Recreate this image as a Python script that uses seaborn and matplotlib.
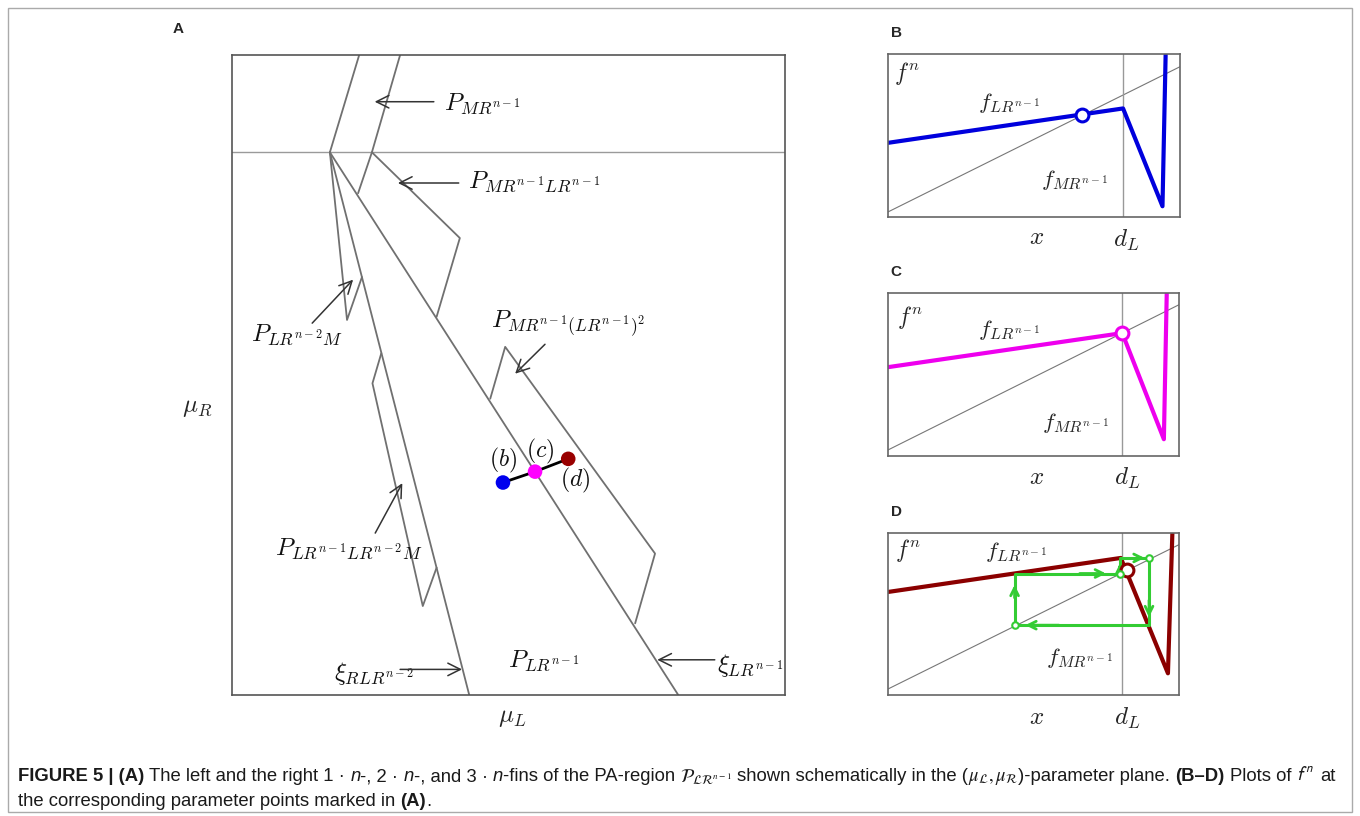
import matplotlib
matplotlib.use("Agg")
import matplotlib.pyplot as plt
from matplotlib.patches import Rectangle
from matplotlib import font_manager
import seaborn as sns

# ---------------- data (schematic units) ----------------
# Panel A: boundary curves in the (mu_L, mu_R) plane, axes span [0,1] x [0,1]
border_y = [0.848, 0.848]
border_x = [0.0, 1.0]
fin1_left_x = [0.230, 0.177]
fin1_left_y = [1.0, 0.848]
fin1_right_x = [0.304, 0.253, 0.228]
fin1_right_y = [1.0, 0.848, 0.784]
fin_mrlr_x = [0.253, 0.412, 0.370]
fin_mrlr_y = [0.848, 0.714, 0.591]
fin_lrm_x = [0.177, 0.208, 0.235]
fin_lrm_y = [0.848, 0.586, 0.653]
xi_rlr_x = [0.177, 0.429]
xi_rlr_y = [0.848, 0.0]
xi_lr_x = [0.177, 0.807]
xi_lr_y = [0.848, 0.0]
fin_lrlrm_x = [0.270, 0.254, 0.345, 0.370]
fin_lrlrm_y = [0.534, 0.487, 0.139, 0.199]
fin_mrlr2_x = [0.467, 0.494, 0.765, 0.729]
fin_mrlr2_y = [0.463, 0.544, 0.221, 0.112]
param_x = [0.490, 0.548, 0.608]
param_y = [0.332, 0.349, 0.369]
param_names = ["$(b)$", "$(c)$", "$(d)$"]
param_colors = ["#0000ee", "#ff00ff", "#990000"]

# Panels B-D: f^n (x in [0,1], y in [0,1])
d_L = 0.805
diag_B_y = [0.031, 0.922]
diag_CD_y = [0.037, 0.928]
curve_B_x = [0.0, 0.805, 0.940, 0.952]
curve_B_y = [0.455, 0.666, 0.066, 1.1]
fixed_B = (0.665, 0.628)
curve_C_x = [0.0, 0.805, 0.948, 0.959]
curve_C_y = [0.545, 0.754, 0.103, 1.1]
fixed_C = (0.805, 0.754)
curve_D_x = [0.0, 0.800, 0.962, 0.979]
curve_D_y = [0.636, 0.846, 0.134, 1.1]
fixed_D = (0.822, 0.770)
cobweb_x = [0.435, 0.435, 0.796, 0.796, 0.897, 0.897, 0.435]
cobweb_y = [0.431, 0.750, 0.750, 0.846, 0.846, 0.431, 0.431]
cobweb_head_frac = [0.78, 0.87, 0.60, 0.85, 0.88, 0.92]
cobweb_pts_x = [0.435, 0.796, 0.897]
cobweb_pts_y = [0.431, 0.750, 0.846]

# ---------------- style ----------------
sns.set_theme(style="white")
plt.rcParams["mathtext.fontset"] = "cm"
names = {f.name for f in font_manager.fontManager.ttflist}
cap_family = "Liberation Sans Narrow" if "Liberation Sans Narrow" in names else "Liberation Sans"
plt.rcParams["font.family"] = ["Liberation Sans", "DejaVu Sans"]

W, H = 1360, 816
fig = plt.figure(figsize=(W / 100, H / 100), dpi=100)
fig.patch.set_facecolor("white")


def rect(l, t, r, b):
    return [l / W, 1 - b / H, (r - l) / W, (b - t) / H]


def style_ax(ax, ec="#555555"):
    ax.set_xlim(0, 1)
    ax.set_ylim(0, 1)
    ax.set_xticks([])
    ax.set_yticks([])
    ax.set_xlabel("")
    ax.set_ylabel("")
    for s in ax.spines.values():
        s.set_visible(True)
        s.set_color(ec)
        s.set_linewidth(1.2)


def line(ax, xs, ys, color="#707070", lw=1.3, **kw):
    sns.lineplot(x=xs, y=ys, sort=False, estimator=None, ax=ax, color=color,
                 linewidth=lw, legend=False, **kw)


# ---------------- Panel A ----------------
axA = fig.add_axes(rect(232, 55, 785, 695))
line(axA, border_x, border_y, color="#9a9a9a", lw=1.0)
for xs, ys in [(fin1_left_x, fin1_left_y), (fin1_right_x, fin1_right_y),
               (fin_mrlr_x, fin_mrlr_y), (fin_lrm_x, fin_lrm_y),
               (xi_rlr_x, xi_rlr_y), (xi_lr_x, xi_lr_y),
               (fin_lrlrm_x, fin_lrlrm_y), (fin_mrlr2_x, fin_mrlr2_y)]:
    line(axA, xs, ys)
line(axA, param_x, param_y, color="black", lw=2.0)
sns.scatterplot(x=param_x, y=param_y, hue=param_names, palette=param_colors,
                s=110, edgecolor="none", ax=axA, legend=False, zorder=5)
style_ax(axA)

FS = 18
arrow_kw = dict(arrowstyle="->,head_length=0.5,head_width=0.25", color="#333333", lw=1.1,
                shrinkA=0, shrinkB=0, mutation_scale=18)
labelsA = [
    ("$P_{MR^{n-1}}$", (0.383, 0.914), (0.365, 0.927), (0.258, 0.927)),
    ("$P_{MR^{n-1}LR^{n-1}}$", (0.426, 0.792), (0.410, 0.800), (0.300, 0.800)),
    ("$P_{LR^{n-2}M}$", (0.035, 0.553), (0.145, 0.581), (0.219, 0.649)),
    ("$P_{MR^{n-1}(LR^{n-1})^2}$", (0.468, 0.573), (0.566, 0.548), (0.512, 0.502)),
    ("$P_{LR^{n-1}LR^{n-2}M}$", (0.077, 0.219), (0.259, 0.253), (0.308, 0.331)),
    ("$\\xi_{RLR^{n-2}}$", (0.184, 0.023), (0.304, 0.040), (0.416, 0.040)),
    ("$P_{LR^{n-1}}$", (0.499, 0.044), None, None),
    ("$\\xi_{LR^{n-1}}$", (0.877, 0.036), (0.873, 0.055), (0.769, 0.055)),
]
for txt, pos, tail, head in labelsA:
    axA.text(pos[0], pos[1], txt, fontsize=FS, ha="left", va="baseline", color="#111111")
    if tail is not None:
        axA.annotate("", xy=head, xytext=tail, arrowprops=arrow_kw)
for nm, (px, py) in zip(param_names, [(0.491, 0.367), (0.557, 0.380), (0.620, 0.336)]):
    axA.text(px, py, nm, fontsize=17, ha="center", va="center", color="#111111")
fig.text(197 / W, 1 - 407 / H, "$\\mu_R$", fontsize=FS, ha="center", va="center")
fig.text(512 / W, 1 - 717 / H, "$\\mu_L$", fontsize=FS, ha="center", va="center")
fig.text(178 / W, 1 - 29 / H, "A", fontsize=11, fontweight="bold", ha="center", va="center")


# ---------------- Panels B-D ----------------
def map_panel(box, label, cx, cy, color, fixed, diag_y, txtpos):
    ax = fig.add_axes(rect(*box))
    line(ax, [0, 1], diag_y, color="#777777", lw=0.8)
    line(ax, [d_L, d_L], [0, 1], color="#999999", lw=1.0)
    line(ax, cx, cy, color=color, lw=3.0)
    sns.scatterplot(x=[fixed[0]], y=[fixed[1]], s=85, color="white", edgecolor=color,
                    linewidth=2.2, ax=ax, legend=False, zorder=6)
    style_ax(ax, ec="#666666")
    (fx, fy), (lx, ly), (mx, my), (xx, xy), (dx, dy) = txtpos
    ax.text(fx, fy, "$f^n$", fontsize=17, ha="center", va="center")
    ax.text(lx, ly, "$f_{LR^{n-1}}$", fontsize=16.5, ha="center", va="center")
    ax.text(mx, my, "$f_{MR^{n-1}}$", fontsize=16.5, ha="center", va="center")
    ax.text(xx, xy, "$x$", fontsize=18, ha="center", va="center")
    ax.text(dx, dy, "$d_L$", fontsize=18, ha="center", va="center")
    fig.text(896 / W, 1 - (box[1] - 21) / H, label, fontsize=11, fontweight="bold",
             ha="center", va="center")
    return ax


axB = map_panel((888, 54, 1180, 217), "B", curve_B_x, curve_B_y, "#0000dd", fixed_B, diag_B_y,
                [(0.064, 0.883), (0.414, 0.699), (0.640, 0.226), (0.510, -0.124), (0.817, -0.143)])
axC = map_panel((888, 293, 1179, 456), "C", curve_C_x, curve_C_y, "#ee00ee", fixed_C, diag_CD_y,
                [(0.075, 0.848), (0.415, 0.774), (0.645, 0.203), (0.511, -0.129), (0.821, -0.135)])
axD = map_panel((888, 533, 1179, 695), "D", curve_D_x, curve_D_y, "#8b0000", fixed_D, diag_CD_y,
                [(0.069, 0.893), (0.441, 0.882), (0.659, 0.228), (0.511, -0.136), (0.821, -0.142)])

green = "#33cc33"
line(axD, cobweb_x, cobweb_y, color=green, lw=2.2)
for i, f in enumerate(cobweb_head_frac):
    x0, y0, x1, y1 = cobweb_x[i], cobweb_y[i], cobweb_x[i + 1], cobweb_y[i + 1]
    hx, hy = x0 + f * (x1 - x0), y0 + f * (y1 - y0)
    tx, ty = x0 + (f - 0.25) * (x1 - x0), y0 + (f - 0.25) * (y1 - y0)
    axD.annotate("", xy=(hx, hy), xytext=(tx, ty),
                 arrowprops=dict(arrowstyle="->", color=green, lw=2.0, shrinkA=0, shrinkB=0,
                                 mutation_scale=14))
sns.scatterplot(x=cobweb_pts_x, y=cobweb_pts_y, s=22, color="white", edgecolor=green,
                linewidth=1.5, ax=axD, legend=False, zorder=7)

# ---------------- frame and caption ----------------
fig.add_artist(Rectangle((8 / W, 4 / H), (W - 16) / W, (H - 12) / H, transform=fig.transFigure,
                         fill=False, edgecolor="#aaaaaa", linewidth=1.0))

renderer = fig.canvas.get_renderer()
base = dict(family=cap_family, color="#1a1a1a")
bold = dict(family=cap_family, color="#1a1a1a", fontweight="bold")
ital = dict(family=cap_family, color="#1a1a1a", style="italic")
mcal = dict(family=cap_family, color="#1a1a1a", math_fontfamily="stix")
msan = dict(family=cap_family, color="#1a1a1a", math_fontfamily="stixsans")

line1 = [
    ("FIGURE 5 | (A)", bold), (" The left and the right 1 · ", base), ("n", ital),
    ("-, 2 · ", base), ("n", ital), ("-, and 3 · ", base), ("n", ital),
    ("-fins of the PA-region ", base), ("$\\mathcal{P}_{\\mathcal{L}\\mathcal{R}^{n-1}}$", mcal),
    (" shown schematically in the (", base), ("$\\mu_{\\mathcal{L}},\\mu_{\\mathcal{R}}$", mcal),
    (")-parameter plane. ", base), ("(B–D)", bold), (" Plots of ", base), ("$f^n$", msan),
    (" at", base),
]
line2 = [("the corresponding parameter points marked in ", base), ("(A)", bold), (".", base)]


def space_w(size):
    t1 = fig.text(0, 0, "a a", fontsize=size, family=cap_family)
    t2 = fig.text(0, 0, "aa", fontsize=size, family=cap_family)
    w = t1.get_window_extent(renderer).width - t2.get_window_extent(renderer).width
    t1.remove()
    t2.remove()
    return w


def draw_runs(runs, x0, ybase, size):
    sw = space_w(size)
    x = x0
    arts = []
    for txt, kw in runs:
        core = txt.strip(" ")
        lead = len(txt) - len(txt.lstrip(" "))
        trail = len(txt) - len(txt.rstrip(" "))
        x += lead * sw
        t = fig.text(x / W, 1 - ybase / H, core, fontsize=size, ha="left", va="baseline", **kw)
        x += t.get_window_extent(renderer).width + trail * sw
        arts.append(t)
    return arts, x - x0


arts, w = draw_runs(line1, 18, 781, 10)
for a in arts:
    a.remove()
size = 10 * 1329 / w
draw_runs(line1, 18, 781, size)
draw_runs(line2, 18, 806, size)

fig.savefig("out.png", dpi=100, facecolor="white")
